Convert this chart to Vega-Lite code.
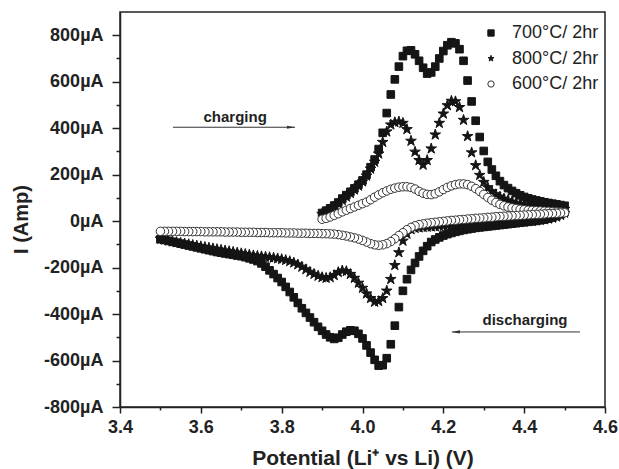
{
"$schema":"https://vega.github.io/schema/vega-lite/v6.json",
"width":485,"height":395,
"autosize":{"type":"none"},
"padding":{"left":120,"top":12,"right":14,"bottom":62},
"background":"white",
"config":{"view":{"stroke":"#222","strokeWidth":1.5},"axis":{"grid":false,"labelFont":"Liberation Sans","titleFont":"Liberation Sans","domainColor":"#222","tickColor":"#222","domainWidth":1.5,"tickWidth":1.5,"labelColor":"#222","titleColor":"#222"},"text":{"font":"Liberation Sans"}},
"data":{"values":[
{"s":"700","v":3.90,"i":35},{"s":"700","v":3.91,"i":45},{"s":"700","v":3.92,"i":55},{"s":"700","v":3.93,"i":67},{"s":"700","v":3.94,"i":80},{"s":"700","v":3.95,"i":97},{"s":"700","v":3.96,"i":112},{"s":"700","v":3.97,"i":126},{"s":"700","v":3.98,"i":141},{"s":"700","v":3.99,"i":157},
{"s":"700","v":4.00,"i":175},{"s":"700","v":4.01,"i":200},{"s":"700","v":4.02,"i":232},{"s":"700","v":4.03,"i":265},{"s":"700","v":4.04,"i":310},{"s":"700","v":4.05,"i":380},{"s":"700","v":4.06,"i":465},{"s":"700","v":4.07,"i":545},{"s":"700","v":4.08,"i":610},{"s":"700","v":4.09,"i":665},
{"s":"700","v":4.10,"i":710},{"s":"700","v":4.11,"i":733},{"s":"700","v":4.12,"i":735},{"s":"700","v":4.13,"i":718},{"s":"700","v":4.14,"i":690},{"s":"700","v":4.15,"i":660},{"s":"700","v":4.16,"i":635},{"s":"700","v":4.17,"i":640},{"s":"700","v":4.18,"i":665},{"s":"700","v":4.19,"i":700},
{"s":"700","v":4.20,"i":732},{"s":"700","v":4.21,"i":757},{"s":"700","v":4.22,"i":770},{"s":"700","v":4.23,"i":765},{"s":"700","v":4.24,"i":740},{"s":"700","v":4.25,"i":690},{"s":"700","v":4.26,"i":605},{"s":"700","v":4.27,"i":515},{"s":"700","v":4.28,"i":432},{"s":"700","v":4.29,"i":362},
{"s":"700","v":4.30,"i":302},{"s":"700","v":4.31,"i":255},{"s":"700","v":4.32,"i":222},{"s":"700","v":4.33,"i":195},{"s":"700","v":4.34,"i":172},{"s":"700","v":4.35,"i":155},{"s":"700","v":4.36,"i":142},{"s":"700","v":4.37,"i":130},{"s":"700","v":4.38,"i":120},{"s":"700","v":4.39,"i":111},
{"s":"700","v":4.40,"i":104},{"s":"700","v":4.41,"i":98},{"s":"700","v":4.42,"i":93},{"s":"700","v":4.43,"i":89},{"s":"700","v":4.44,"i":85},{"s":"700","v":4.45,"i":81},{"s":"700","v":4.46,"i":78},{"s":"700","v":4.47,"i":75},{"s":"700","v":4.48,"i":72},{"s":"700","v":4.49,"i":69},{"s":"700","v":4.50,"i":66},
{"s":"700","v":4.50,"i":40},{"s":"700","v":4.49,"i":30},{"s":"700","v":4.48,"i":22},{"s":"700","v":4.47,"i":16},{"s":"700","v":4.46,"i":11},{"s":"700","v":4.45,"i":7},{"s":"700","v":4.44,"i":4},{"s":"700","v":4.43,"i":1},{"s":"700","v":4.42,"i":-1},{"s":"700","v":4.41,"i":-3},
{"s":"700","v":4.40,"i":-5},{"s":"700","v":4.39,"i":-7},{"s":"700","v":4.38,"i":-9},{"s":"700","v":4.37,"i":-11},{"s":"700","v":4.36,"i":-13},{"s":"700","v":4.35,"i":-15},{"s":"700","v":4.34,"i":-17},{"s":"700","v":4.33,"i":-19},{"s":"700","v":4.32,"i":-21},{"s":"700","v":4.31,"i":-23},
{"s":"700","v":4.30,"i":-25},{"s":"700","v":4.29,"i":-27},{"s":"700","v":4.28,"i":-29},{"s":"700","v":4.27,"i":-32},{"s":"700","v":4.26,"i":-35},{"s":"700","v":4.25,"i":-38},{"s":"700","v":4.24,"i":-42},{"s":"700","v":4.23,"i":-46},{"s":"700","v":4.22,"i":-51},{"s":"700","v":4.21,"i":-56},
{"s":"700","v":4.20,"i":-62},{"s":"700","v":4.19,"i":-70},{"s":"700","v":4.18,"i":-79},{"s":"700","v":4.17,"i":-90},{"s":"700","v":4.16,"i":-108},{"s":"700","v":4.15,"i":-128},{"s":"700","v":4.14,"i":-152},{"s":"700","v":4.13,"i":-180},{"s":"700","v":4.12,"i":-210},{"s":"700","v":4.11,"i":-250},
{"s":"700","v":4.10,"i":-300},{"s":"700","v":4.09,"i":-370},{"s":"700","v":4.08,"i":-450},{"s":"700","v":4.07,"i":-530},{"s":"700","v":4.06,"i":-590},{"s":"700","v":4.05,"i":-620},{"s":"700","v":4.04,"i":-622},{"s":"700","v":4.03,"i":-597},{"s":"700","v":4.02,"i":-566},{"s":"700","v":4.01,"i":-535},
{"s":"700","v":4.00,"i":-505},{"s":"700","v":3.99,"i":-485},{"s":"700","v":3.98,"i":-472},{"s":"700","v":3.97,"i":-470},{"s":"700","v":3.96,"i":-476},{"s":"700","v":3.95,"i":-488},{"s":"700","v":3.94,"i":-502},{"s":"700","v":3.93,"i":-507},{"s":"700","v":3.92,"i":-500},{"s":"700","v":3.91,"i":-488},
{"s":"700","v":3.90,"i":-472},{"s":"700","v":3.89,"i":-455},{"s":"700","v":3.88,"i":-435},{"s":"700","v":3.87,"i":-415},{"s":"700","v":3.86,"i":-395},{"s":"700","v":3.85,"i":-375},{"s":"700","v":3.84,"i":-352},{"s":"700","v":3.83,"i":-328},{"s":"700","v":3.82,"i":-305},{"s":"700","v":3.81,"i":-283},
{"s":"700","v":3.80,"i":-262},{"s":"700","v":3.79,"i":-245},{"s":"700","v":3.78,"i":-228},{"s":"700","v":3.77,"i":-212},{"s":"700","v":3.76,"i":-196},{"s":"700","v":3.75,"i":-182},{"s":"700","v":3.74,"i":-172},{"s":"700","v":3.73,"i":-165},{"s":"700","v":3.72,"i":-160},{"s":"700","v":3.71,"i":-155},
{"s":"700","v":3.70,"i":-151},{"s":"700","v":3.69,"i":-148},{"s":"700","v":3.68,"i":-145},{"s":"700","v":3.67,"i":-142},{"s":"700","v":3.66,"i":-139},{"s":"700","v":3.65,"i":-136},{"s":"700","v":3.64,"i":-133},{"s":"700","v":3.63,"i":-129},{"s":"700","v":3.62,"i":-125},{"s":"700","v":3.61,"i":-121},
{"s":"700","v":3.60,"i":-117},{"s":"700","v":3.59,"i":-113},{"s":"700","v":3.58,"i":-109},{"s":"700","v":3.57,"i":-105},{"s":"700","v":3.56,"i":-101},{"s":"700","v":3.55,"i":-97},{"s":"700","v":3.54,"i":-93},{"s":"700","v":3.53,"i":-89},{"s":"700","v":3.52,"i":-85},{"s":"700","v":3.51,"i":-81},{"s":"700","v":3.50,"i":-78},
{"s":"800","v":3.90,"i":30},{"s":"800","v":3.91,"i":40},{"s":"800","v":3.92,"i":50},{"s":"800","v":3.93,"i":62},{"s":"800","v":3.94,"i":75},{"s":"800","v":3.95,"i":90},{"s":"800","v":3.96,"i":105},{"s":"800","v":3.97,"i":120},{"s":"800","v":3.98,"i":135},{"s":"800","v":3.99,"i":152},
{"s":"800","v":4.00,"i":170},{"s":"800","v":4.01,"i":195},{"s":"800","v":4.02,"i":225},{"s":"800","v":4.03,"i":255},{"s":"800","v":4.04,"i":290},{"s":"800","v":4.05,"i":340},{"s":"800","v":4.06,"i":385},{"s":"800","v":4.07,"i":415},{"s":"800","v":4.08,"i":425},{"s":"800","v":4.09,"i":428},
{"s":"800","v":4.10,"i":422},{"s":"800","v":4.11,"i":395},{"s":"800","v":4.12,"i":345},{"s":"800","v":4.13,"i":298},{"s":"800","v":4.14,"i":262},{"s":"800","v":4.15,"i":242},{"s":"800","v":4.16,"i":262},{"s":"800","v":4.17,"i":312},{"s":"800","v":4.18,"i":372},{"s":"800","v":4.19,"i":422},
{"s":"800","v":4.20,"i":462},{"s":"800","v":4.21,"i":498},{"s":"800","v":4.22,"i":517},{"s":"800","v":4.23,"i":515},{"s":"800","v":4.24,"i":490},{"s":"800","v":4.25,"i":435},{"s":"800","v":4.26,"i":365},{"s":"800","v":4.27,"i":295},{"s":"800","v":4.28,"i":240},{"s":"800","v":4.29,"i":198},
{"s":"800","v":4.30,"i":168},{"s":"800","v":4.31,"i":145},{"s":"800","v":4.32,"i":128},{"s":"800","v":4.33,"i":115},{"s":"800","v":4.34,"i":105},{"s":"800","v":4.35,"i":96},{"s":"800","v":4.36,"i":89},{"s":"800","v":4.37,"i":83},{"s":"800","v":4.38,"i":78},{"s":"800","v":4.39,"i":74},
{"s":"800","v":4.40,"i":70},{"s":"800","v":4.41,"i":67},{"s":"800","v":4.42,"i":64},{"s":"800","v":4.43,"i":62},{"s":"800","v":4.44,"i":60},{"s":"800","v":4.45,"i":58},{"s":"800","v":4.46,"i":56},{"s":"800","v":4.47,"i":55},{"s":"800","v":4.48,"i":54},{"s":"800","v":4.49,"i":53},{"s":"800","v":4.50,"i":52},
{"s":"800","v":4.50,"i":35},{"s":"800","v":4.49,"i":26},{"s":"800","v":4.48,"i":19},{"s":"800","v":4.47,"i":14},{"s":"800","v":4.46,"i":10},{"s":"800","v":4.45,"i":7},{"s":"800","v":4.44,"i":5},{"s":"800","v":4.43,"i":3},{"s":"800","v":4.42,"i":1},{"s":"800","v":4.41,"i":0},
{"s":"800","v":4.40,"i":-1},{"s":"800","v":4.39,"i":-2},{"s":"800","v":4.38,"i":-3},{"s":"800","v":4.37,"i":-4},{"s":"800","v":4.36,"i":-5},{"s":"800","v":4.35,"i":-6},{"s":"800","v":4.34,"i":-7},{"s":"800","v":4.33,"i":-8},{"s":"800","v":4.32,"i":-9},{"s":"800","v":4.31,"i":-10},
{"s":"800","v":4.30,"i":-11},{"s":"800","v":4.29,"i":-12},{"s":"800","v":4.28,"i":-13},{"s":"800","v":4.27,"i":-14},{"s":"800","v":4.26,"i":-15},{"s":"800","v":4.25,"i":-16},{"s":"800","v":4.24,"i":-17},{"s":"800","v":4.23,"i":-18},{"s":"800","v":4.22,"i":-19},{"s":"800","v":4.21,"i":-20},
{"s":"800","v":4.20,"i":-21},{"s":"800","v":4.19,"i":-22},{"s":"800","v":4.18,"i":-23},{"s":"800","v":4.17,"i":-24},{"s":"800","v":4.16,"i":-25},{"s":"800","v":4.15,"i":-26},{"s":"800","v":4.14,"i":-28},{"s":"800","v":4.13,"i":-30},{"s":"800","v":4.12,"i":-36},{"s":"800","v":4.11,"i":-55},
{"s":"800","v":4.10,"i":-85},{"s":"800","v":4.09,"i":-135},{"s":"800","v":4.08,"i":-190},{"s":"800","v":4.07,"i":-250},{"s":"800","v":4.06,"i":-300},{"s":"800","v":4.05,"i":-332},{"s":"800","v":4.04,"i":-345},{"s":"800","v":4.03,"i":-348},{"s":"800","v":4.02,"i":-332},{"s":"800","v":4.01,"i":-312},
{"s":"800","v":4.00,"i":-288},{"s":"800","v":3.99,"i":-266},{"s":"800","v":3.98,"i":-245},{"s":"800","v":3.97,"i":-228},{"s":"800","v":3.96,"i":-216},{"s":"800","v":3.95,"i":-213},{"s":"800","v":3.94,"i":-220},{"s":"800","v":3.93,"i":-233},{"s":"800","v":3.92,"i":-242},{"s":"800","v":3.91,"i":-245},
{"s":"800","v":3.90,"i":-242},{"s":"800","v":3.89,"i":-236},{"s":"800","v":3.88,"i":-228},{"s":"800","v":3.87,"i":-219},{"s":"800","v":3.86,"i":-208},{"s":"800","v":3.85,"i":-197},{"s":"800","v":3.84,"i":-187},{"s":"800","v":3.83,"i":-179},{"s":"800","v":3.82,"i":-173},{"s":"800","v":3.81,"i":-168},
{"s":"800","v":3.80,"i":-164},{"s":"800","v":3.79,"i":-161},{"s":"800","v":3.78,"i":-158},{"s":"800","v":3.77,"i":-156},{"s":"800","v":3.76,"i":-154},{"s":"800","v":3.75,"i":-152},{"s":"800","v":3.74,"i":-150},{"s":"800","v":3.73,"i":-148},{"s":"800","v":3.72,"i":-145},{"s":"800","v":3.71,"i":-142},
{"s":"800","v":3.70,"i":-139},{"s":"800","v":3.69,"i":-136},{"s":"800","v":3.68,"i":-133},{"s":"800","v":3.67,"i":-130},{"s":"800","v":3.66,"i":-127},{"s":"800","v":3.65,"i":-124},{"s":"800","v":3.64,"i":-121},{"s":"800","v":3.63,"i":-118},{"s":"800","v":3.62,"i":-115},{"s":"800","v":3.61,"i":-112},
{"s":"800","v":3.60,"i":-109},{"s":"800","v":3.59,"i":-106},{"s":"800","v":3.58,"i":-103},{"s":"800","v":3.57,"i":-100},{"s":"800","v":3.56,"i":-97},{"s":"800","v":3.55,"i":-94},{"s":"800","v":3.54,"i":-91},{"s":"800","v":3.53,"i":-88},{"s":"800","v":3.52,"i":-84},{"s":"800","v":3.51,"i":-80},{"s":"800","v":3.50,"i":-76},
{"s":"600","v":3.90,"i":8},{"s":"600","v":3.91,"i":12},{"s":"600","v":3.92,"i":18},{"s":"600","v":3.93,"i":25},{"s":"600","v":3.94,"i":32},{"s":"600","v":3.95,"i":40},{"s":"600","v":3.96,"i":47},{"s":"600","v":3.97,"i":54},{"s":"600","v":3.98,"i":61},{"s":"600","v":3.99,"i":68},
{"s":"600","v":4.00,"i":75},{"s":"600","v":4.01,"i":82},{"s":"600","v":4.02,"i":92},{"s":"600","v":4.03,"i":103},{"s":"600","v":4.04,"i":113},{"s":"600","v":4.05,"i":122},{"s":"600","v":4.06,"i":130},{"s":"600","v":4.07,"i":137},{"s":"600","v":4.08,"i":142},{"s":"600","v":4.09,"i":146},
{"s":"600","v":4.10,"i":148},{"s":"600","v":4.11,"i":148},{"s":"600","v":4.12,"i":145},{"s":"600","v":4.13,"i":138},{"s":"600","v":4.14,"i":128},{"s":"600","v":4.15,"i":120},{"s":"600","v":4.16,"i":115},{"s":"600","v":4.17,"i":114},{"s":"600","v":4.18,"i":118},{"s":"600","v":4.19,"i":126},
{"s":"600","v":4.20,"i":136},{"s":"600","v":4.21,"i":145},{"s":"600","v":4.22,"i":152},{"s":"600","v":4.23,"i":157},{"s":"600","v":4.24,"i":160},{"s":"600","v":4.25,"i":160},{"s":"600","v":4.26,"i":157},{"s":"600","v":4.27,"i":150},{"s":"600","v":4.28,"i":140},{"s":"600","v":4.29,"i":128},
{"s":"600","v":4.30,"i":115},{"s":"600","v":4.31,"i":102},{"s":"600","v":4.32,"i":90},{"s":"600","v":4.33,"i":80},{"s":"600","v":4.34,"i":72},{"s":"600","v":4.35,"i":66},{"s":"600","v":4.36,"i":61},{"s":"600","v":4.37,"i":57},{"s":"600","v":4.38,"i":54},{"s":"600","v":4.39,"i":51},
{"s":"600","v":4.40,"i":49},{"s":"600","v":4.41,"i":47},{"s":"600","v":4.42,"i":46},{"s":"600","v":4.43,"i":45},{"s":"600","v":4.44,"i":44},{"s":"600","v":4.45,"i":43},{"s":"600","v":4.46,"i":42},{"s":"600","v":4.47,"i":41},{"s":"600","v":4.48,"i":40},{"s":"600","v":4.49,"i":39},{"s":"600","v":4.50,"i":38},
{"s":"600","v":4.50,"i":36},{"s":"600","v":4.49,"i":35},{"s":"600","v":4.48,"i":34},{"s":"600","v":4.47,"i":33},{"s":"600","v":4.46,"i":32},{"s":"600","v":4.45,"i":31},{"s":"600","v":4.44,"i":30},{"s":"600","v":4.43,"i":29},{"s":"600","v":4.42,"i":28},{"s":"600","v":4.41,"i":27},
{"s":"600","v":4.40,"i":26},{"s":"600","v":4.39,"i":25},{"s":"600","v":4.38,"i":24},{"s":"600","v":4.37,"i":23},{"s":"600","v":4.36,"i":22},{"s":"600","v":4.35,"i":21},{"s":"600","v":4.34,"i":20},{"s":"600","v":4.33,"i":19},{"s":"600","v":4.32,"i":17},{"s":"600","v":4.31,"i":16},
{"s":"600","v":4.30,"i":14},{"s":"600","v":4.29,"i":13},{"s":"600","v":4.28,"i":12},{"s":"600","v":4.27,"i":10},{"s":"600","v":4.26,"i":9},{"s":"600","v":4.25,"i":7},{"s":"600","v":4.24,"i":6},{"s":"600","v":4.23,"i":4},{"s":"600","v":4.22,"i":3},{"s":"600","v":4.21,"i":1},
{"s":"600","v":4.20,"i":-1},{"s":"600","v":4.19,"i":-3},{"s":"600","v":4.18,"i":-5},{"s":"600","v":4.17,"i":-7},{"s":"600","v":4.16,"i":-9},{"s":"600","v":4.15,"i":-12},{"s":"600","v":4.14,"i":-15},{"s":"600","v":4.13,"i":-20},{"s":"600","v":4.12,"i":-27},{"s":"600","v":4.11,"i":-37},
{"s":"600","v":4.10,"i":-50},{"s":"600","v":4.09,"i":-62},{"s":"600","v":4.08,"i":-76},{"s":"600","v":4.07,"i":-88},{"s":"600","v":4.06,"i":-97},{"s":"600","v":4.05,"i":-102},{"s":"600","v":4.04,"i":-104},{"s":"600","v":4.03,"i":-102},{"s":"600","v":4.02,"i":-97},{"s":"600","v":4.01,"i":-90},
{"s":"600","v":4.00,"i":-83},{"s":"600","v":3.99,"i":-77},{"s":"600","v":3.98,"i":-72},{"s":"600","v":3.97,"i":-68},{"s":"600","v":3.96,"i":-64},{"s":"600","v":3.95,"i":-61},{"s":"600","v":3.94,"i":-58},{"s":"600","v":3.93,"i":-56},{"s":"600","v":3.92,"i":-55},{"s":"600","v":3.91,"i":-54},
{"s":"600","v":3.90,"i":-54},{"s":"600","v":3.89,"i":-53},{"s":"600","v":3.88,"i":-53},{"s":"600","v":3.87,"i":-53},{"s":"600","v":3.86,"i":-52},{"s":"600","v":3.85,"i":-52},{"s":"600","v":3.84,"i":-52},{"s":"600","v":3.83,"i":-51},{"s":"600","v":3.82,"i":-51},{"s":"600","v":3.81,"i":-51},
{"s":"600","v":3.80,"i":-50},{"s":"600","v":3.79,"i":-50},{"s":"600","v":3.78,"i":-50},{"s":"600","v":3.77,"i":-50},{"s":"600","v":3.76,"i":-49},{"s":"600","v":3.75,"i":-49},{"s":"600","v":3.74,"i":-49},{"s":"600","v":3.73,"i":-48},{"s":"600","v":3.72,"i":-48},{"s":"600","v":3.71,"i":-48},
{"s":"600","v":3.70,"i":-48},{"s":"600","v":3.69,"i":-47},{"s":"600","v":3.68,"i":-47},{"s":"600","v":3.67,"i":-47},{"s":"600","v":3.66,"i":-47},{"s":"600","v":3.65,"i":-46},{"s":"600","v":3.64,"i":-46},{"s":"600","v":3.63,"i":-46},{"s":"600","v":3.62,"i":-46},{"s":"600","v":3.61,"i":-46},
{"s":"600","v":3.60,"i":-45},{"s":"600","v":3.59,"i":-45},{"s":"600","v":3.58,"i":-45},{"s":"600","v":3.57,"i":-45},{"s":"600","v":3.56,"i":-45},{"s":"600","v":3.55,"i":-44},{"s":"600","v":3.54,"i":-44},{"s":"600","v":3.53,"i":-44},{"s":"600","v":3.52,"i":-44},{"s":"600","v":3.51,"i":-44},{"s":"600","v":3.50,"i":-44}
]},
"encoding":{
 "x":{"field":"v","type":"quantitative","scale":{"domain":[3.4,4.6],"nice":false,"zero":false},
  "axis":{"title":"Potential (Li⁺ vs Li) (V)","values":[3.4,3.5,3.6,3.7,3.8,3.9,4.0,4.1,4.2,4.3,4.4,4.5,4.6],
   "labelExpr":"round(datum.value*10) % 2 === 0 ? format(datum.value, '.1f') : ''",
   "tickSize":{"condition":{"test":"round(datum.value*10) % 2 === 0","value":6},"value":3},
   "labelFontSize":18,"labelFontWeight":"bold","labelPadding":5,"labelFlush":false,"labelOverlap":false,
   "titleFontSize":21,"titleFontWeight":"bold","titleBaseline":"alphabetic","titleY":57}},
 "y":{"field":"i","type":"quantitative","scale":{"domain":[-800,900],"nice":false,"zero":false},
  "axis":{"title":"I (Amp)","values":[-800,-700,-600,-500,-400,-300,-200,-100,0,100,200,300,400,500,600,700,800],
   "labelExpr":"datum.value % 200 === 0 ? datum.value + 'µA' : ''",
   "tickSize":{"condition":{"test":"datum.value % 200 === 0","value":8},"value":4},
   "labelFontSize":18,"labelFontWeight":"bold","labelPadding":9,"labelOverlap":false,"labelFlush":false,
   "titleFontSize":20,"titleFontWeight":"bold","titleX":-99,"titleY":207,"titleBaseline":"middle","titleAlign":"center","titleAngle":-90}}
},
"layer":[
{
"transform":[{"filter":"datum.s === '700'"}],
"mark":{"type":"point","filled":true,"opacity":1,"strokeWidth":1,"size":58},
"encoding":{
 "shape":{"field":"s","type":"nominal","scale":{"domain":["700","800","600"],"range":["square","M0,-1L0.225,-0.309L0.951,-0.309L0.363,0.118L0.588,0.809L0,0.382L-0.588,0.809L-0.363,0.118L-0.951,-0.309L-0.225,-0.309Z","circle"]},
  "legend":{"title":null,"orient":"none","legendX":362,"legendY":12,"padding":0,"labelExpr":"datum.label + '°C/ 2hr'","labelFont":"Liberation Sans","labelFontSize":18,"labelColor":"#222","symbolSize":40,"symbolStrokeWidth":1,"rowPadding":7.5,"labelOffset":12}},
 "fill":{"field":"s","type":"nominal","scale":{"domain":["700","800","600"],"range":["#151515","#151515","#ffffff"]}},
 "stroke":{"field":"s","type":"nominal","scale":{"domain":["700","800","600"],"range":["#151515","#151515","#333333"]}}
}
},
{
"transform":[{"filter":"datum.s === '800'"}],
"mark":{"type":"point","filled":true,"opacity":1,"strokeWidth":1,"size":125},
"encoding":{
 "shape":{"field":"s","type":"nominal"},
 "fill":{"field":"s","type":"nominal"},
 "stroke":{"field":"s","type":"nominal"}
}
},
{
"transform":[{"filter":"datum.s === '600'"}],
"mark":{"type":"point","filled":true,"opacity":1,"strokeWidth":1,"size":72},
"encoding":{
 "shape":{"field":"s","type":"nominal"},
 "fill":{"field":"s","type":"nominal"},
 "stroke":{"field":"s","type":"nominal"}
}
},
{
"data":{"values":[{"v":3.685,"i":427,"t":"charging"},{"v":4.402,"i":-449,"t":"discharging"}]},
"mark":{"type":"text","font":"Liberation Sans","fontSize":15,"fontWeight":"bold","align":"center","baseline":"alphabetic","color":"#222"},
"encoding":{"text":{"field":"t","type":"nominal"}}
},
{
"data":{"values":[{"v":3.531,"v2":3.833,"i":404},{"v":4.221,"v2":4.538,"i":-477}]},
"mark":{"type":"rule","color":"#333","strokeWidth":1},
"encoding":{"x2":{"field":"v2"}}
},
{
"data":{"values":[{"v":3.823,"i":404}]},
"mark":{"type":"point","shape":"M-1,-0.4L1,0L-1,0.4Z","filled":true,"size":64,"color":"#333","opacity":1},
"encoding":{}
},
{
"data":{"values":[{"v":4.231,"i":-477}]},
"mark":{"type":"point","shape":"M1,-0.4L-1,0L1,0.4Z","filled":true,"size":64,"color":"#333","opacity":1},
"encoding":{}
}
]
}
